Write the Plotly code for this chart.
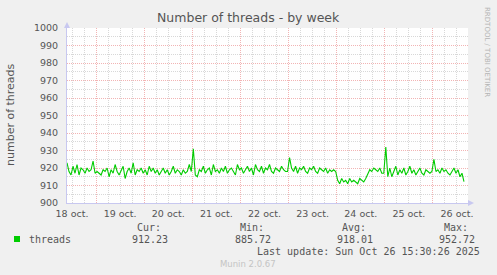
import pandas as pd
import plotly.graph_objects as go

# ---------------- data ----------------
start_time = "2025-10-18 09:30"
day18 = [923, 918, 916, 921, 917, 922, 916, 920, 919, 917, 920, 918, 919, 924, 917]
day19 = [918, 917, 916, 919, 918, 920, 915, 919, 917, 922, 918, 916, 919, 921, 914, 918,
         920, 917, 923, 916, 919, 918, 920, 917]
day20 = [919, 916, 921, 918, 920, 917, 919, 916, 918, 920, 917, 919, 916, 918, 921, 917,
         919, 918, 916, 919, 917, 918, 922, 918]
day21 = [931, 916, 915, 919, 918, 921, 917, 919, 920, 916, 922, 918, 919, 917, 920, 918,
         921, 917, 919, 920, 918, 916, 922, 919]
day22 = [920, 917, 919, 921, 918, 920, 916, 922, 919, 918, 921, 917, 920, 919, 922, 918,
         917, 920, 919, 918, 921, 919, 918, 918]
day23 = [926, 920, 918, 921, 917, 920, 919, 921, 918, 917, 920, 919, 921, 918, 917, 920,
         919, 918, 920, 917, 919, 918, 919, 918]
day24 = [913, 911, 914, 912, 913, 911, 914, 912, 913, 912, 911, 914, 913, 912, 914, 917,
         919, 918, 920, 919, 918, 920, 917, 917]
day25 = [932, 915, 920, 915, 918, 921, 916, 919, 917, 920, 916, 918, 921, 917, 919, 916,
         918, 920, 917, 916, 919, 918, 917, 918]
day26 = [925, 918, 919, 917, 920, 918, 919, 917, 916, 918, 920, 917, 919, 915, 917, 912.23]

threads = day18 + day19 + day20 + day21 + day22 + day23 + day24 + day25 + day26
times = pd.date_range(start=start_time, periods=len(threads), freq="h")

x_range = ["2025-10-18 09:30", "2025-10-26 17:30"]
y_range = [900, 1000]

series_name = "threads"
stat_labels = ["Cur:", "Min:", "Avg:", "Max:"]
stat_values = ["912.23", "885.72", "918.01", "952.72"]
last_update = "Last update: Sun Oct 26 15:30:26 2025"
title_text = "Number of threads - by week"
y_title = "number of threads"
side_text = "RRDTOOL / TOBI OETIKER"
footer = "Munin 2.0.67"

# ---------------- layout helpers ----------------
W, H = 497, 275
L, R, T, B = 67, 468, 28, 203


def fx(px):
    return (px - L) / (R - L)


def fy(py):
    return (B - py) / (B - T)


TXT = "#555555"
MONO = "DejaVu Sans Mono"
SANS = "DejaVu Sans"
MAJOR = "#F2B4B4"
MINOR = "#D8D8D8"
AXIS = "#C8C8F0"

fig = go.Figure()
fig.add_trace(go.Scatter(x=times, y=threads, mode="lines",
                         line=dict(color="#00CC00", width=1.1),
                         showlegend=False, hoverinfo="skip"))

fig.update_layout(
    width=W, height=H,
    margin=dict(l=L, r=W - R, t=T, b=H - B, pad=0),
    paper_bgcolor="#F0F0F0", plot_bgcolor="#FFFFFF",
    showlegend=False,
    xaxis=dict(
        type="date", range=x_range, tick0="2025-10-18", dtick=86400000,
        ticklabelmode="period", tickformat="%d oct.",
        showgrid=True, gridcolor=MAJOR, griddash="1px,1px", gridwidth=1,
        minor=dict(dtick=6 * 3600000, tick0="2025-10-18", showgrid=True,
                   gridcolor=MINOR, griddash="1px,1px", gridwidth=1),
        ticks="", showline=True, linecolor=AXIS, linewidth=1, zeroline=False,
        tickfont=dict(family=SANS, size=9.5, color=TXT),
        ticklabelstandoff=2,
    ),
    yaxis=dict(
        range=y_range, dtick=10, tick0=900,
        showgrid=True, gridcolor=MAJOR, griddash="1px,1px", gridwidth=1,
        minor=dict(dtick=5, showgrid=True, gridcolor=MINOR, griddash="1px,1px",
                   gridwidth=1),
        ticks="", showline=True, linecolor=AXIS, linewidth=1, zeroline=False,
        tickfont=dict(family=SANS, size=9.5, color=TXT),
        ticklabelstandoff=6,
    ),
)

ann = []
ann.append(dict(text=title_text, x=fx(248.5), y=fy(18), xref="paper", yref="paper",
                xanchor="center", yanchor="middle", showarrow=False,
                font=dict(family=SANS, size=12.5, color=TXT)))
ann.append(dict(text=y_title, x=fx(10), y=fy(115), xref="paper", yref="paper",
                xanchor="center", yanchor="middle", textangle=-90, showarrow=False,
                font=dict(family=SANS, size=11, color=TXT)))
ann.append(dict(text=side_text, x=fx(487), y=fy(5), xref="paper", yref="paper",
                xanchor="center", yanchor="top", textangle=90, showarrow=False,
                font=dict(family=SANS, size=7, color="#B4B4B4")))
ann.append(dict(text=series_name, x=fx(27), y=fy(239), xref="paper", yref="paper",
                xanchor="left", yanchor="middle", showarrow=False,
                font=dict(family=MONO, size=10, color=TXT)))

label_right = [163, 266, 368, 470]
value_right = [170, 273, 375, 477]
for lab, val, lr, vr in zip(stat_labels, stat_values, label_right, value_right):
    ann.append(dict(text=lab, x=fx(lr), y=fy(227), xref="paper", yref="paper",
                    xanchor="right", yanchor="middle", showarrow=False,
                    font=dict(family=MONO, size=10, color=TXT)))
    ann.append(dict(text=val, x=fx(vr), y=fy(239), xref="paper", yref="paper",
                    xanchor="right", yanchor="middle", showarrow=False,
                    font=dict(family=MONO, size=10, color=TXT)))
ann.append(dict(text=last_update, x=fx(482), y=fy(251), xref="paper", yref="paper",
                xanchor="right", yanchor="middle", showarrow=False,
                font=dict(family=MONO, size=10, color=TXT)))
ann.append(dict(text=footer, x=fx(248), y=fy(264), xref="paper", yref="paper",
                xanchor="center", yanchor="middle", showarrow=False,
                font=dict(family=SANS, size=8.5, color="#C4C4C4")))
fig.update_layout(annotations=ann)

shapes = [
    # legend swatch
    dict(type="rect", xref="paper", yref="paper", x0=fx(14), x1=fx(20), y0=fy(242), y1=fy(236),
         fillcolor="#00CC00", line=dict(width=0)),
    # arrow on top of y axis
    dict(type="path", xref="paper", yref="paper", xsizemode="pixel", ysizemode="pixel",
         xanchor=0, yanchor=1, path="M -3,0 L 3,0 L 0,6 Z",
         fillcolor=AXIS, line=dict(width=0)),
    # arrow at right of x axis
    dict(type="path", xref="paper", yref="paper", xsizemode="pixel", ysizemode="pixel",
         xanchor=1, yanchor=0, path="M 0,-3 L 0,3 L 6,0 Z",
         fillcolor=AXIS, line=dict(width=0)),
]
fig.update_layout(shapes=shapes)

fig.write_html("out.html")
